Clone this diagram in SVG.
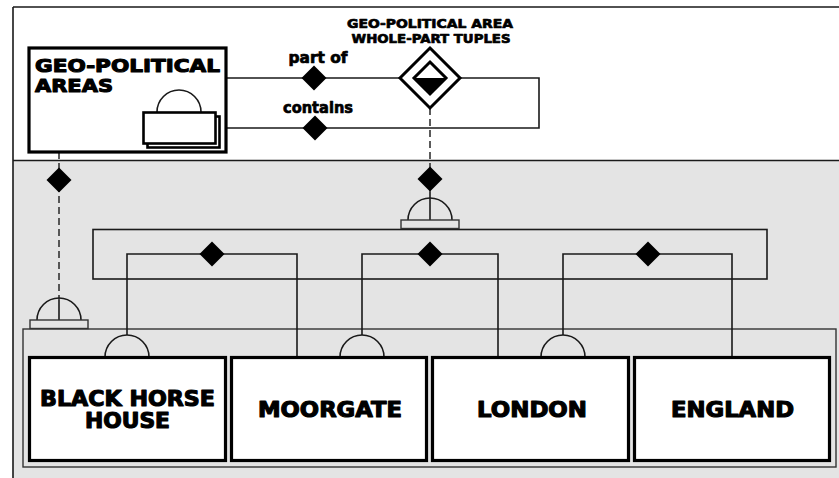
<svg xmlns="http://www.w3.org/2000/svg" width="839" height="478" viewBox="0 0 839 478">
  <style>
    .lbl { font-family: "DejaVu Sans", "Liberation Sans", sans-serif; font-weight: bold; fill: #000; stroke: #000; stroke-width: 0.7; stroke-linejoin: round; }
    .big { stroke-width: 1.1; }
    .ln { fill: none; stroke: #1a1a1a; stroke-width: 1.6; }
    .dash { fill: none; stroke: #333; stroke-width: 1.6; stroke-dasharray: 7 4; }
    .ent { fill: #fff; stroke: #000; stroke-width: 3.2; }
    .dia { fill: #000; stroke: none; }
    .dome { fill: none; stroke: #1a1a1a; stroke-width: 1.6; }
    .base { fill: #e4e4e4; stroke: #333; stroke-width: 1.4; }
  </style>
  <defs>
    <path id="rel" d="M0,-12.5 L12.5,0 L0,12.5 L-12.5,0 Z"/>
  </defs>

  <!-- frame: white upper band, grey lower band -->
  <rect x="0" y="0" width="839" height="478" fill="#fff"/>
  <rect x="13" y="160.5" width="826" height="318" fill="#e4e4e4"/>
  <path class="ln" d="M13,7 H839 M13,7 V478 M13,160.5 H839" stroke="#333"/>

  <!-- container for the four instances -->
  <rect class="base" x="23" y="329" width="813" height="138" fill="#e4e4e4"/>

  <g id="connectors">
    <!-- self relation loop of the class -->
    <path class="ln" d="M179,89.5 V78 H539 V128 H220"/>
    <!-- dashed classification links -->
    <path class="dash" d="M59,152 V300"/>
    <path class="dash" d="M430,108 V192"/>
    <line class="ln" x1="430" y1="192" x2="430" y2="220"/>
    <line class="ln" x1="59" y1="300" x2="59" y2="320"/>
    <!-- tuple set boundary -->
    <rect class="ln" x="93" y="229.5" width="674" height="49.5"/>
    <!-- whole-part loops -->
    <path class="ln" d="M127,335 V254 H297 V357"/>
    <path class="ln" d="M362,335 V254 H498 V357"/>
    <path class="ln" d="M563,335 V254 H732 V357"/>
    <!-- relation diamonds -->
    <use href="#rel" class="dia" x="314" y="78"/>
    <use href="#rel" class="dia" x="315" y="128"/>
    <use href="#rel" class="dia" x="59" y="180"/>
    <use href="#rel" class="dia" x="430" y="179"/>
    <use href="#rel" class="dia" x="212" y="254"/>
    <use href="#rel" class="dia" x="430" y="254"/>
    <use href="#rel" class="dia" x="648" y="254"/>
  </g>

  <text class="lbl" x="318" y="63" font-size="15" text-anchor="middle" textLength="59" lengthAdjust="spacingAndGlyphs">part of</text>
  <text class="lbl" x="318" y="113" font-size="15" text-anchor="middle" textLength="70" lengthAdjust="spacingAndGlyphs">contains</text>

  <!-- class node -->
  <g id="geo-political-areas">
    <rect class="ent" x="29" y="48" width="197" height="104"/>
    <text class="lbl big" x="35" y="72" font-size="18" textLength="185" lengthAdjust="spacingAndGlyphs">GEO-POLITICAL</text>
    <text class="lbl big" x="35" y="92" font-size="18" textLength="78" lengthAdjust="spacingAndGlyphs">AREAS</text>
    <path class="dome" d="M157,112 A22,22 0 0 1 201,112"/>
    <rect x="147.5" y="116.5" width="72" height="31" fill="#fff" stroke="#000" stroke-width="2.6"/>
    <rect x="143.5" y="112.5" width="72" height="31" fill="#fff" stroke="#000" stroke-width="2.6"/>
  </g>

  <!-- tuple class node -->
  <g id="whole-part-tuples">
    <text class="lbl" x="430" y="28" font-size="12" text-anchor="middle" textLength="166" lengthAdjust="spacingAndGlyphs">GEO-POLITICAL AREA</text>
    <text class="lbl" x="431" y="43" font-size="12" text-anchor="middle" textLength="159" lengthAdjust="spacingAndGlyphs">WHOLE-PART TUPLES</text>
    <path d="M430,48 L460,78 L430,108 L400,78 Z" fill="#fff" stroke="#000" stroke-width="3"/>
    <path d="M414,78 L446,78 L430,94 Z" fill="#000"/>
    <path d="M430,62 L446,78 L430,94 L414,78 Z" fill="none" stroke="#000" stroke-width="3"/>
  </g>

  <!-- classifier icons -->
  <g id="tuple-set-icon">
    <path class="dome" d="M408,220 A22,22 0 0 1 452,220"/>
    <rect class="base" x="401" y="220" width="58" height="8.5"/>
  </g>
  <g id="instance-set-icon">
    <path class="dome" d="M37,320 A22,22 0 0 1 81,320"/>
    <rect class="base" x="30" y="320" width="58" height="8.5"/>
  </g>

  <!-- instance nodes -->
  <g id="black-horse-house">
    <path class="dome" d="M105,357 A22,22 0 0 1 149,357"/>
    <rect class="ent" x="29.5" y="357.5" width="196" height="103"/>
    <text class="lbl big" x="127.5" y="406" font-size="20.5" text-anchor="middle" textLength="175" lengthAdjust="spacingAndGlyphs">BLACK HORSE</text>
    <text class="lbl big" x="127.5" y="428" font-size="20.5" text-anchor="middle" textLength="85" lengthAdjust="spacingAndGlyphs">HOUSE</text>
  </g>
  <g id="moorgate">
    <path class="dome" d="M340,357 A22,22 0 0 1 384,357"/>
    <rect class="ent" x="231.5" y="357.5" width="195" height="103"/>
    <text class="lbl big" x="330" y="417" font-size="20.5" text-anchor="middle" textLength="144" lengthAdjust="spacingAndGlyphs">MOORGATE</text>
  </g>
  <g id="london">
    <path class="dome" d="M541,357 A22,22 0 0 1 585,357"/>
    <rect class="ent" x="432.5" y="357.5" width="196" height="103"/>
    <text class="lbl big" x="532" y="417" font-size="20.5" text-anchor="middle" textLength="110" lengthAdjust="spacingAndGlyphs">LONDON</text>
  </g>
  <g id="england">
    <rect class="ent" x="634.5" y="357.5" width="195" height="103"/>
    <text class="lbl big" x="732.5" y="417" font-size="20.5" text-anchor="middle" textLength="123" lengthAdjust="spacingAndGlyphs">ENGLAND</text>
  </g>
</svg>
